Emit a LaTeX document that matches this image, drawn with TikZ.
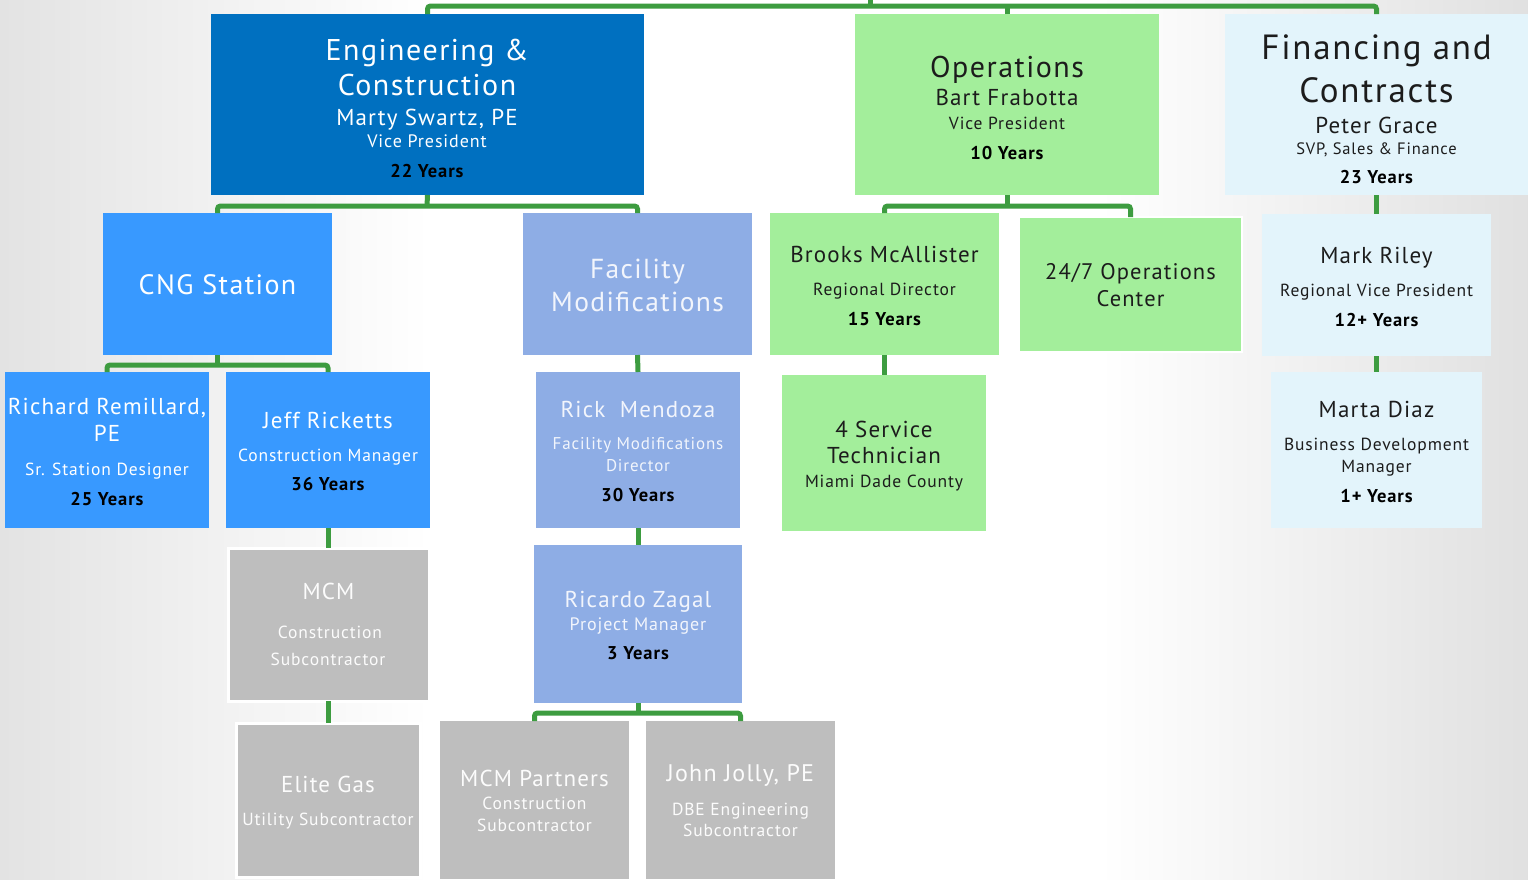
\documentclass[tikz,border=0pt]{standalone}
\usepackage{fontspec}
\setmainfont[LetterSpace=5]{PT Sans}
\definecolor{ecblue}{HTML}{0070C0}
\definecolor{cngblue}{HTML}{3899FF}
\definecolor{facblue}{HTML}{8EADE5}
\definecolor{opsgreen}{HTML}{A3EE9B}
\definecolor{finblue}{HTML}{E3F4FB}
\definecolor{subgray}{HTML}{BEBEBE}
\definecolor{linkgreen}{HTML}{3D9C40}
\definecolor{darktext}{HTML}{1C1C1C}
\definecolor{softwhite}{HTML}{F2F5FC}
\newcommand\fsz[1]{\fontsize{#1}{#1}\selectfont}
\begin{document}
\begin{tikzpicture}[x=1pt,y=-1pt,
  box/.style={anchor=north west, inner sep=0pt, outer sep=0pt, draw=none},
  ln/.style={anchor=base, inner sep=0pt, outer sep=0pt},
  big/.style={ln, font=\fsz{#1}},
  yrs/.style={ln, font=\bfseries\fsz{18.5}, text=black},
  conn/.style={draw=linkgreen, line width=5pt, rounded corners=3pt},
  frame/.style={draw=white, line width=3pt}]

% page and soft grey shading at both sides
\fill[white] (0,0) rectangle (1528,879);
\shade[left color=black!11, right color=white] (0,0) rectangle (430,879);
\shade[left color=white, right color=black!12] (1100,0) rectangle (1528,879);
\useasboundingbox (0,0) rectangle (1528,879);

% ---------- boxes ----------
\node[box, fill=ecblue,   minimum width=433, minimum height=181] (ec)   at (211,14) {};
\node[box, fill=opsgreen, minimum width=304, minimum height=181] (ops)  at (855,14) {};
\node[box, fill=finblue,  minimum width=303, minimum height=181] (fin)  at (1225,14) {};

\node[box, fill=cngblue,  minimum width=229, minimum height=142] (cng)  at (103,213) {};
\node[box, fill=facblue,  minimum width=229, minimum height=142] (fac)  at (523,213) {};
\node[box, fill=opsgreen, minimum width=229, minimum height=142] (brk)  at (770,213) {};
\node[box, fill=opsgreen, frame, line width=2pt, minimum width=223, minimum height=135] (noc) at (1019,217) {};
\node[box, fill=finblue,  minimum width=229, minimum height=142] (mark) at (1262,214) {};

\node[box, fill=cngblue,  minimum width=204, minimum height=156] (rich) at (5,372) {};
\node[box, fill=cngblue,  minimum width=204, minimum height=156] (jeff) at (226,372) {};
\node[box, fill=facblue,  minimum width=204, minimum height=156] (rick) at (536,372) {};
\node[box, fill=opsgreen, minimum width=204, minimum height=156] (svc)  at (782,375) {};
\node[box, fill=finblue,  minimum width=211, minimum height=156] (marta) at (1271,372) {};

\node[box, fill=subgray, frame, minimum width=201, minimum height=153] (mcm) at (228,548) {};
\node[box, fill=facblue,  minimum width=208, minimum height=158] (ricz) at (534,545) {};

\node[box, fill=subgray, frame, minimum width=184, minimum height=154] (elite) at (236,723) {};
\node[box, fill=subgray,  minimum width=189, minimum height=158] (mcmp) at (440,721) {};
\node[box, fill=subgray,  minimum width=189, minimum height=158] (jolly) at (646,721) {};

% ---------- connectors ----------
\coordinate (topstub) at (870,0);
\coordinate (topbar)  at (870,6);
\draw[conn] (ec.north) |- (topbar) -| (fin.north);
\draw[conn] (topstub) -- (topbar);
\draw[conn] (ops.north) -- (ops.north |- topbar);

\coordinate (ecbar) at (427,206);
\draw[conn] (ec.south) -- (ecbar);
\draw[conn] (cng.north) |- (ecbar) -| (fac.north);

\coordinate (cngbar) at (217.5,365);
\draw[conn] (cng.south) -- (cngbar);
\draw[conn] (rich.north) |- (cngbar) -| (jeff.north);
\draw[conn] (jeff.south) -- (jeff.south |- mcm.north);
\draw[conn] (jeff.south |- mcm.south) -- (jeff.south |- elite.north);

\draw[conn] (fac.south) -- (rick.north);
\draw[conn] (rick.south) -- (ricz.north);
\coordinate (riczbar) at (638,713);
\draw[conn] (ricz.south) -- (riczbar);
\draw[conn] (mcmp.north) |- (riczbar) -| (jolly.north);

\coordinate (opsbar) at (1007,206);
\draw[conn] (ops.south) -- (opsbar);
\draw[conn] (brk.north) |- (opsbar) -| (noc.north);
\draw[conn] (brk.south) -- (brk.south |- svc.north);

\draw[conn] (fin.south) -- (mark.north);
\draw[conn] (mark.south) -- (marta.north);

% ---------- texts ----------
\begin{scope}[text=white]
\node[big=30] (ec1) at (427,60)  {Engineering \&};
\node[big=30] (ec2) at (427,95)  {Construction};
\node[big=23] (ec3) at (427,125) {Marty Swartz, PE};
\node[big=18] (ec4) at (427,147) {Vice President};
\node[yrs]    (ec5) at (427,177) {22 Years};

\node[big=28] (cng1) at (217.5,294) {CNG Station};

\node[big=23] (rich1) at (107,414) {Richard Remillard,};
\node[big=23] (rich2) at (107,441) {PE};
\node[big=17.5] (rich3) at (107,475) {Sr. Station Designer};
\node[yrs]    (rich4) at (107,505) {25 Years};

\node[big=23] (jeff1) at (328,428) {Jeff Ricketts};
\node[big=17.5] (jeff2) at (328,461) {Construction Manager};
\node[yrs]    (jeff3) at (328,490) {36 Years};
\end{scope}

\begin{scope}[text=softwhite]
\node[big=27.5] (fac1) at (637.5,278) {Facility};
\node[big=27.5] (fac2) at (637.5,311) {Modifications};
\node[big=23] (rick1) at (638,417) {Rick\ \ Mendoza};
\node[big=17, text=white!88!facblue] (rick2) at (638,449) {Facility Modifications};
\node[big=17, text=white!88!facblue] (rick3) at (638,471) {Director};
\node[yrs]    (rick4) at (638,501) {30 Years};
\node[big=23] (ricz1) at (638,607) {Ricardo Zagal};
\node[big=18] (ricz2) at (638,630) {Project Manager};
\node[yrs]    (ricz3) at (638,659) {3 Years};
\end{scope}

\begin{scope}[text=white!95!subgray]
\node[big=23] (mcm1) at (328.5,599) {MCM};
\node[big=17.5] (mcm2) at (330,638) {Construction};
\node[big=17.5] (mcm3) at (328,665) {Subcontractor};
\node[big=23] (elite1) at (328,792) {Elite Gas};
\node[big=17.5] (elite2) at (328,825) {Utility Subcontractor};
\node[big=23] (mcmp1) at (534.5,786) {MCM Partners};
\node[big=17.5] (mcmp2) at (534.5,809) {Construction};
\node[big=17.5] (mcmp3) at (534.5,831) {Subcontractor};
\node[big=24] (jolly1) at (740.5,781) {John Jolly, PE};
\node[big=17.5] (jolly2) at (740.5,815) {DBE Engineering};
\node[big=17.5] (jolly3) at (740.5,836) {Subcontractor};
\end{scope}

\begin{scope}[text=darktext]
\node[big=30] (ops1) at (1007,77)  {Operations};
\node[big=23] (ops2) at (1007,105) {Bart Frabotta};
\node[big=17.5] (ops3) at (1007,129) {Vice President};
\node[yrs]    (ops4) at (1007,159) {10 Years};

\node[big=35] (fin1) at (1376.5,59)  {Financing and};
\node[big=35] (fin2) at (1376.5,102) {Contracts};
\node[big=23] (fin3) at (1376.5,133) {Peter Grace};
\node[big=16.5] (fin4) at (1376.5,154) {SVP, Sales \& Finance};
\node[yrs]    (fin5) at (1376.5,183) {23 Years};

\node[big=23] (brk1) at (884.5,262) {Brooks McAllister};
\node[big=17.5] (brk2) at (884.5,295) {Regional Director};
\node[yrs]    (brk3) at (884.5,325) {15 Years};

\node[big=22.5] (noc1) at (1130.5,279) {24/7 Operations};
\node[big=22.5] (noc2) at (1130.5,306) {Center};

\node[big=23] (svc1) at (884,437) {4 Service};
\node[big=23] (svc2) at (884,463) {Technician};
\node[big=17.5] (svc3) at (884,487) {Miami Dade County};

\node[big=23] (mark1) at (1376.5,263) {Mark Riley};
\node[big=17.5] (mark2) at (1376.5,296) {Regional Vice President};
\node[yrs]    (mark3) at (1376.5,326) {12+ Years};

\node[big=23] (marta1) at (1376.5,417) {Marta Diaz};
\node[big=17.5] (marta2) at (1376.5,450) {Business Development};
\node[big=17.5] (marta3) at (1376.5,472) {Manager};
\node[yrs]      (marta4) at (1376.5,502) {1+ Years};
\end{scope}
\end{tikzpicture}
\end{document}
